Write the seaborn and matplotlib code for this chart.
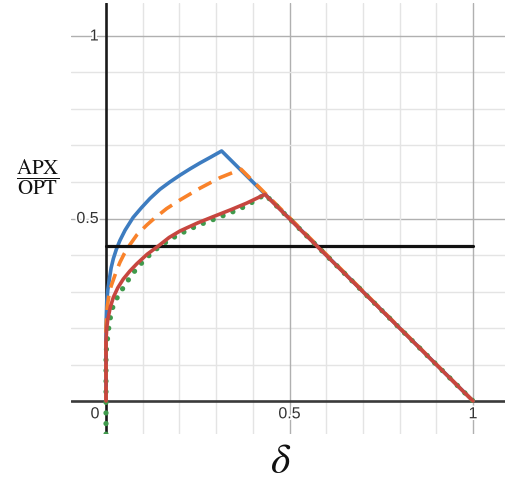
import matplotlib
matplotlib.use('Agg')
import matplotlib.pyplot as plt
import matplotlib.patheffects as pe
import seaborn as sns
import numpy as np

# datos
blue_x = [0.0, 0.0, 0.002, 0.005, 0.009, 0.014, 0.020, 0.028, 0.038, 0.052, 0.074, 0.097, 0.120, 0.147,
          0.174, 0.202, 0.229, 0.256, 0.285, 0.315, 1.0]
blue_y = [0.0, 0.20, 0.272, 0.305, 0.333, 0.365, 0.390, 0.415, 0.440, 0.468, 0.503, 0.530, 0.555, 0.580,
          0.600, 0.619, 0.636, 0.652, 0.668, 0.685, 0.0]

orange_x = [0.0, 0.0, 0.003, 0.008, 0.014, 0.020, 0.028, 0.038, 0.050, 0.065, 0.084, 0.111, 0.129, 0.165,
            0.202, 0.256, 0.311, 0.368, 1.0]
orange_y = [0.0, 0.20, 0.255, 0.290, 0.315, 0.332, 0.355, 0.380, 0.404, 0.428, 0.455, 0.482, 0.498, 0.527,
            0.551, 0.583, 0.612, 0.635, 0.0]

red_x = [0.0, 0.0, 0.002, 0.005, 0.012, 0.020, 0.032, 0.047, 0.065, 0.084, 0.112, 0.143, 0.172, 0.202,
         0.250, 0.292, 0.340, 0.383, 0.433, 1.0]
red_y = [0.0, 0.167, 0.200, 0.225, 0.258, 0.284, 0.310, 0.334, 0.356, 0.376, 0.402, 0.425, 0.448, 0.466,
         0.488, 0.505, 0.524, 0.542, 0.566, 0.0]

green_x = [0.0, 0.0, 0.004, 0.008, 0.013, 0.020, 0.035, 0.052, 0.070, 0.088, 0.110, 0.134, 0.170, 0.202,
           0.250, 0.292, 0.340, 0.383, 0.433, 1.0]
green_y = [-0.12, 0.13, 0.17, 0.205, 0.235, 0.263, 0.292, 0.318, 0.346, 0.368, 0.392, 0.414, 0.440, 0.458,
           0.481, 0.497, 0.516, 0.535, 0.566, 0.0]

hline_y = 0.4247
hline_x = [0.0, 1.0]

xtick_vals = [0.0, 0.5, 1.0]
xtick_labels = ['0', '0.5', '1']
ytick_vals = [0.5, 1.0]
ytick_labels = ['0.5', '1']

sns.set_style('white')
plt.rcParams['mathtext.fontset'] = 'stix'
plt.rcParams['font.family'] = ['Liberation Sans', 'DejaVu Sans']

fig = plt.figure(figsize=(5.15, 4.82), dpi=100)
ax = fig.add_axes([71 / 515, 1 - 434 / 482, 434 / 515, 431 / 482])
ax.set_xlim(-0.0954, 1.0872)
ax.set_ylim(-0.0904, 1.0904)

# cuadrícula estilo Desmos
for v in np.arange(1, 11) / 10:
    major = abs(v - 0.5) < 1e-9 or abs(v - 1.0) < 1e-9
    c = '#b0b0b0' if major else '#e4e4e4'
    ax.axvline(v, color=c, lw=1.0, zorder=0)
    ax.axhline(v, color=c, lw=1.0, zorder=0)
ax.axhline(0, color='#3a3a3a', lw=1.9, zorder=1)
ax.axvline(0, color='#1a1a1a', lw=1.9, zorder=1)
for s in ax.spines.values():
    s.set_visible(False)
ax.set_xticks([])
ax.set_yticks([])

sns.lineplot(x=blue_x, y=blue_y, sort=False, estimator=None, color='#3d7cc0', lw=2.6, ax=ax, zorder=3)
sns.lineplot(x=orange_x, y=orange_y, sort=False, estimator=None, color='#f9822a', lw=2.6, ax=ax, zorder=4,
             linestyle=(0, (4.0, 2.3)))
ax.plot(hline_x, [hline_y, hline_y], color='#111111', lw=2.3, zorder=5)
sns.lineplot(x=green_x, y=green_y, sort=False, estimator=None, color='#3f9a4c', lw=3.8, ax=ax, zorder=6,
             linestyle=(0, (0.01, 2.0)), dash_capstyle='round')
sns.lineplot(x=red_x, y=red_y, sort=False, estimator=None, color='#c7463f', lw=2.6, ax=ax, zorder=7)

halo = [pe.withStroke(linewidth=2.5, foreground='white')]
for v, lab in zip(ytick_vals, ytick_labels):
    ax.text(-0.02, v, lab, ha='right', va='center', fontsize=11.5, color='#333333',
            path_effects=halo, zorder=8)
for v, lab in zip(xtick_vals, xtick_labels):
    xx = -0.03 if v == 0 else v
    ax.text(xx, -0.035, lab, ha='center', va='center', fontsize=11.5, color='#333333',
            path_effects=halo, zorder=8)

fig.text(38 / 515, 1 - 177 / 482, r'$\dfrac{\mathrm{APX}}{\mathrm{OPT}}$', ha='center', va='center',
         fontsize=15, color='#111111')
fig.text(281 / 515, 1 - 462 / 482, r'$\delta$', ha='center', va='center', fontsize=30, color='#111111')

fig.savefig('out.png', dpi=100)
